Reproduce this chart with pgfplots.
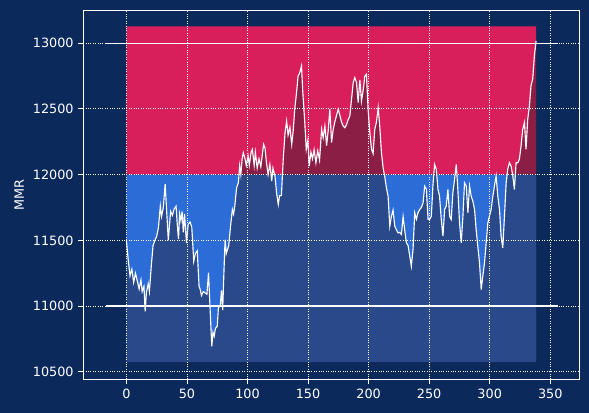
\documentclass[border=0pt]{standalone}
\usepackage{pgfplots}
\pgfplotsset{compat=1.18}
\usepackage{pgfplotstable}
\usepackage{fontspec}
\setmainfont{DejaVu Sans}
\definecolor{bgnavy}{RGB}{12,41,92}
\definecolor{rpink}{RGB}{216,30,91}
\definecolor{rblue}{RGB}{44,108,214}
\definecolor{shadecol}{RGB}{39,30,41}
\pgfplotstableread{
x y
0 11500
1.5 11350
3 11230
4.5 11280
6 11180
7.5 11250
9 11190
10.5 11130
12 11200
13 11110
14.5 11150
15.5 10960
16.5 11100
18 11170
19 11110
20.5 11300
22 11460
23.5 11500
25 11530
26.5 11600
28 11760
29 11680
30.5 11750
32 11930
33 11760
34.6 11500
36.5 11720
38 11690
39.5 11740
41 11760
42 11620
43 11510
44 11700
45 11650
46 11720
47 11560
48 11700
49.6 11480
51 11620
52.5 11640
54 11600
55.6 11340
57 11400
58.5 11420
60 11150
61 11125
62 11080
63.5 11110
65 11100
66.5 11090
67.8 11254
69 11000
70.5 10693
71.5 10800
72.5 10770
73.5 10830
75 10845
76 10990
77.5 11000
78.5 11120
79.5 10970
80.5 11250
81.5 11505
82.5 11400
83.5 11430
84.5 11460
86 11608
87.5 11735
88.5 11700
89.5 11760
91 11900
92.5 11940
93.5 12067
94.5 12000
95.5 12116
96.5 12167
98 12116
99 12070
100.5 12140
101.5 12070
103 12170
104 12192
105.5 12070
106.5 12170
108 12050
109.5 12120
111 12060
113.3 12230
114.5 12200
115.5 12100
117 12000
118.5 12078
120 11950
121 12050
122.7 11989
124 11862
125.4 11773
126.5 11840
128 11840
129.5 12116
131 12319
132.3 12408
133.5 12300
135 12360
136.5 12230
137.7 12330
139 12497
140.5 12624
141.8 12751
143 12770
144.6 12827
145.5 12650
147.3 12396
148.5 12192
149.8 12260
151 12065
152.4 12170
153.7 12120
155 12190
156.5 12090
158 12180
159.5 12110
161.2 12345
162.5 12280
163.9 12370
165.3 12220
166.7 12340
168.0 12497
169.4 12243
170.8 12345
172.1 12400
173.5 12450
174.9 12497
176.3 12450
177.6 12400
179 12370
180.4 12357
181.8 12380
183.2 12420
184.5 12446
185.9 12573
187.3 12700
188.6 12738
190 12700
191.4 12548
192.8 12720
194.1 12560
195.5 12640
196.9 12750
198.2 12764
199.6 12497
201 12320
202.4 12192
203.7 12160
205.1 12345
206.5 12400
207.9 12510
209.2 12370
210.6 12167
212 12050
213.3 11989
214.7 11900
216.1 11836
217.5 11608
218.8 11680
220.2 11730
221.6 11608
223 11580
224.3 11557
225.7 11560
227.1 11545
228.5 11680
229.8 11580
231.2 11481
232.6 11460
234 11380
235.3 11303
236.7 11430
238.1 11710
239.5 11660
240.8 11710
242.2 11735
243.6 11750
245 11785
246.3 11912
247.7 11890
249.1 11660
250.4 11659
251.8 11684
253.1 11913
254.5 12078
255.9 12040
257.3 11887
258.6 11836
260 11659
261.4 11532
262.8 11735
264.1 11760
265.5 11887
266.9 11684
268.2 11659
269.6 11862
271 11964
272.4 12078
273.7 11887
275.1 11634
276.5 11481
277.9 11684
279.2 11938
280.6 11913
282 11710
283.4 11913
284.7 11836
286.1 11798
287.5 11735
288.8 11583
290.2 11455
291.6 11328
293 11125
294.3 11227
295.7 11328
297.1 11481
298.5 11634
299.8 11684
301.2 11735
302.6 11836
303.9 11913
305.3 11989
306.7 11836
308.1 11735
309.4 11532
310.8 11443
312.2 11684
313.6 11938
314.9 12040
316.3 12090
317.7 12065
319.1 11989
320.4 11887
321.8 12090
323.2 12090
324.5 12116
325.9 12218
327.3 12345
328.7 12396
330 12192
331.4 12421
332.8 12522
334.1 12675
335.5 12726
336.9 12903
338.3 13018
}\mmr
\begin{document}
\begin{tikzpicture}
\fill[bgnavy] (-62.475pt,-25.275pt) rectangle (379.275pt,284.475pt);
\useasboundingbox (-62.475pt,-25.275pt) rectangle (379.275pt,284.475pt);
\begin{axis}[
  at={(0pt,0pt)}, anchor=south west,
  scale only axis, width=372pt, height=276.75pt,
  xmin=-35.6, xmax=374, ymin=10443, ymax=13250,
  xtick={0,50,...,350}, ytick={10500,11000,...,13000},
  scaled y ticks=false, scaled x ticks=false,
  /pgf/number format/1000 sep={},
  /pgf/number format/assume math mode=true,
  tick label style={font=\fontsize{9.6}{11}\selectfont, text=white},
  label style={font=\fontsize{9.6}{11}\selectfont, text=white},
  ylabel={MMR},
  axis line style={white, line width=0.6pt},
  tick style={white, line width=0.6pt},
  tick align=outside, major tick length=3.7pt,
  xtick pos=bottom, ytick pos=left,
  grid=major,
  grid style={white, line width=0.6pt, dash pattern=on 0.6pt off 1.2pt},
  axis on top,
]
\addplot[fill=rpink, draw=none] coordinates {(0,12000) (338.3,12000) (338.3,13128) (0,13128) (0,12000)};
\addplot[fill=rblue, draw=none] coordinates {(0,10572) (338.3,10572) (338.3,12000) (0,12000) (0,10572)};
\addplot[fill=shadecol, fill opacity=0.44, draw=none] table[x=x,y=y] {\mmr} \closedcycle;
\addplot[fill=bgnavy, draw=none] coordinates {(-1,10300) (340,10300) (340,10572) (-1,10572) (-1,10300)};
\addplot[white, line width=0.85pt] table[x=x,y=y] {\mmr};
\addplot[white, line width=0.9pt] coordinates {(-17,13000) (356,13000)};
\addplot[white, line width=0.9pt] coordinates {(-17,11000) (356,11000)};
\end{axis}
\end{tikzpicture}
\end{document}
